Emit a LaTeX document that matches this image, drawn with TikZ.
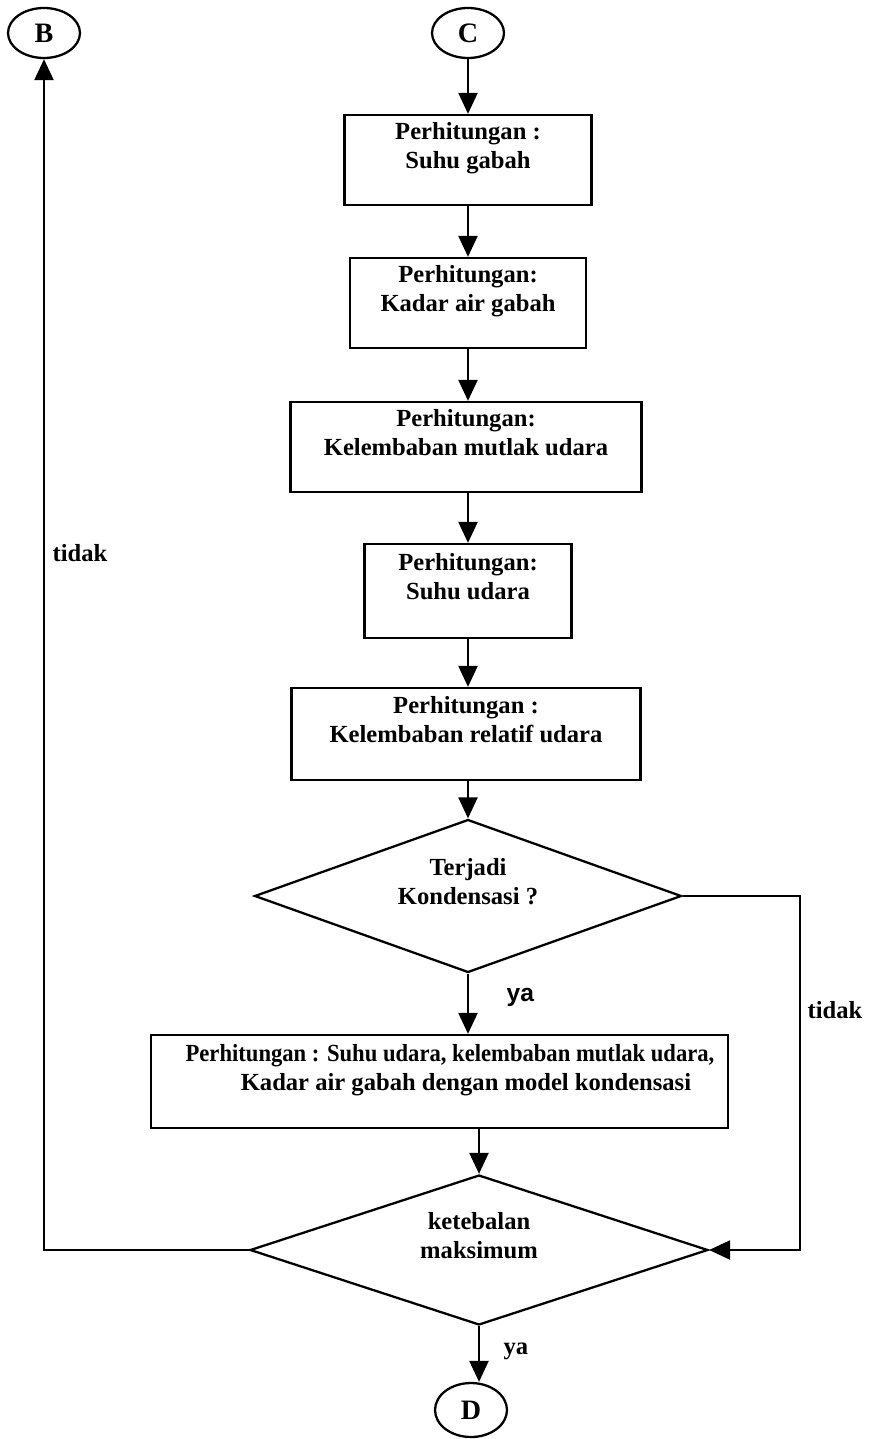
\documentclass[tikz,border=0pt]{standalone}
\usepackage{fontspec}
\setmainfont{Liberation Serif}
\newfontfamily\yafont{Liberation Sans}
\usetikzlibrary{shapes.geometric,arrows.meta}
\begin{document}
\begin{tikzpicture}[x=0.02cm,y=-0.02cm,
    proc/.style={draw,line width=1.3pt,minimum height=1.8cm,inner sep=0pt,align=center,font=\fontsize{14}{16.5}\selectfont\bfseries},
    decis/.style={draw,diamond,line width=1.3pt,inner sep=0pt,align=center,font=\fontsize{14}{16.5}\selectfont\bfseries},
    conn/.style={draw,ellipse,line width=1.3pt,minimum width=1.44cm,minimum height=1cm,inner sep=0pt,font=\fontsize{16}{16}\selectfont\bfseries},
    arr/.style={line width=1.3pt,-{Triangle[length=0.42cm,width=0.38cm]}},
    lbl/.style={font=\fontsize{14}{16.5}\selectfont\bfseries}]
    \useasboundingbox (0,0) rectangle (870,1439);
    % connectors
    \node[conn] (cB) at (44,33) {B};
    \node[conn] (cC) at (468,33) {C};
    \node[conn,minimum height=1.08cm] (cD) at (471,1410) {D};
    % process boxes
    \node[proc,minimum width=4.94cm] (p1) at (468,160) {Perhitungan :\\Suhu gabah\\\mbox{}};
    \node[proc,minimum width=4.72cm] (p2) at (468,303) {Perhitungan:\\Kadar air gabah\\\mbox{}};
    \node[proc,minimum width=7.02cm] (p3) at (466,447) {Perhitungan:\\Kelembaban mutlak udara\\\mbox{}};
    \node[proc,minimum width=4.14cm,minimum height=1.88cm] (p4) at (468,591) {Perhitungan:\\Suhu udara\\\mbox{}};
    \node[proc,minimum width=6.98cm,minimum height=1.84cm] (p5) at (466,734) {Perhitungan :\\Kelembaban relatif udara\\\mbox{}};
    \node[decis,aspect=2.8,minimum width=8.54cm,minimum height=3.06cm] (d1) at (468,896) {Terjadi\\Kondensasi ?\\\mbox{}};
    \node[proc,minimum width=11.54cm,minimum height=1.86cm] (p6) at (439.5,1081.5) {};
    \node[lbl,align=center] (p6t) at (458,1081.5) {\scalebox{0.92}[1]{Perhitungan : Suhu udara, kelembaban mutlak udara,}\hspace*{0.32cm}\\\hspace*{0.32cm}Kadar air gabah dengan model kondensasi\\\mbox{}};
    \node[decis,aspect=3.05,minimum width=9.16cm,minimum height=3cm] (d2) at (479,1250) {ketebalan\\maksimum\\\mbox{}};
    \coordinate (rt) at (800,893);
    % flow
    \draw[arr] (cC) -- (p1);
    \draw[arr] (p1.south) -- (p1.south |- p2.north);
    \draw[arr] (p2.south) -- (p2.south |- p3.north);
    \draw[arr] (p3.south -| p4.north) -- (p4.north);
    \draw[arr] (p4.south) -- (p4.south |- p5.north);
    \draw[arr] (p5.south -| d1.north) -- (d1.north);
    \draw[arr] (d1.south) -- (d1.south |- p6.north) node[pos=0.4,right=18pt,font=\fontsize{14}{16}\selectfont\bfseries\yafont] (ya1) {ya};
    \draw[arr] (p6.south -| d2.north) -- (d2.north);
    \draw[arr] (d2.south) -- (d2.south |- cD.north) node[pos=0.45,right=10pt,lbl] (ya2) {ya};
    \draw[arr] (d1.east) -- (d1.east -| rt) -- (rt |- d2.east) -- (d2.east);
    \draw[arr] (d2.west) -| (cB.south);
    \node[lbl] (tdk1) at (835,1010) {tidak};
    \node[lbl] (tdk2) at (80,553) {tidak};
\end{tikzpicture}
\end{document}
